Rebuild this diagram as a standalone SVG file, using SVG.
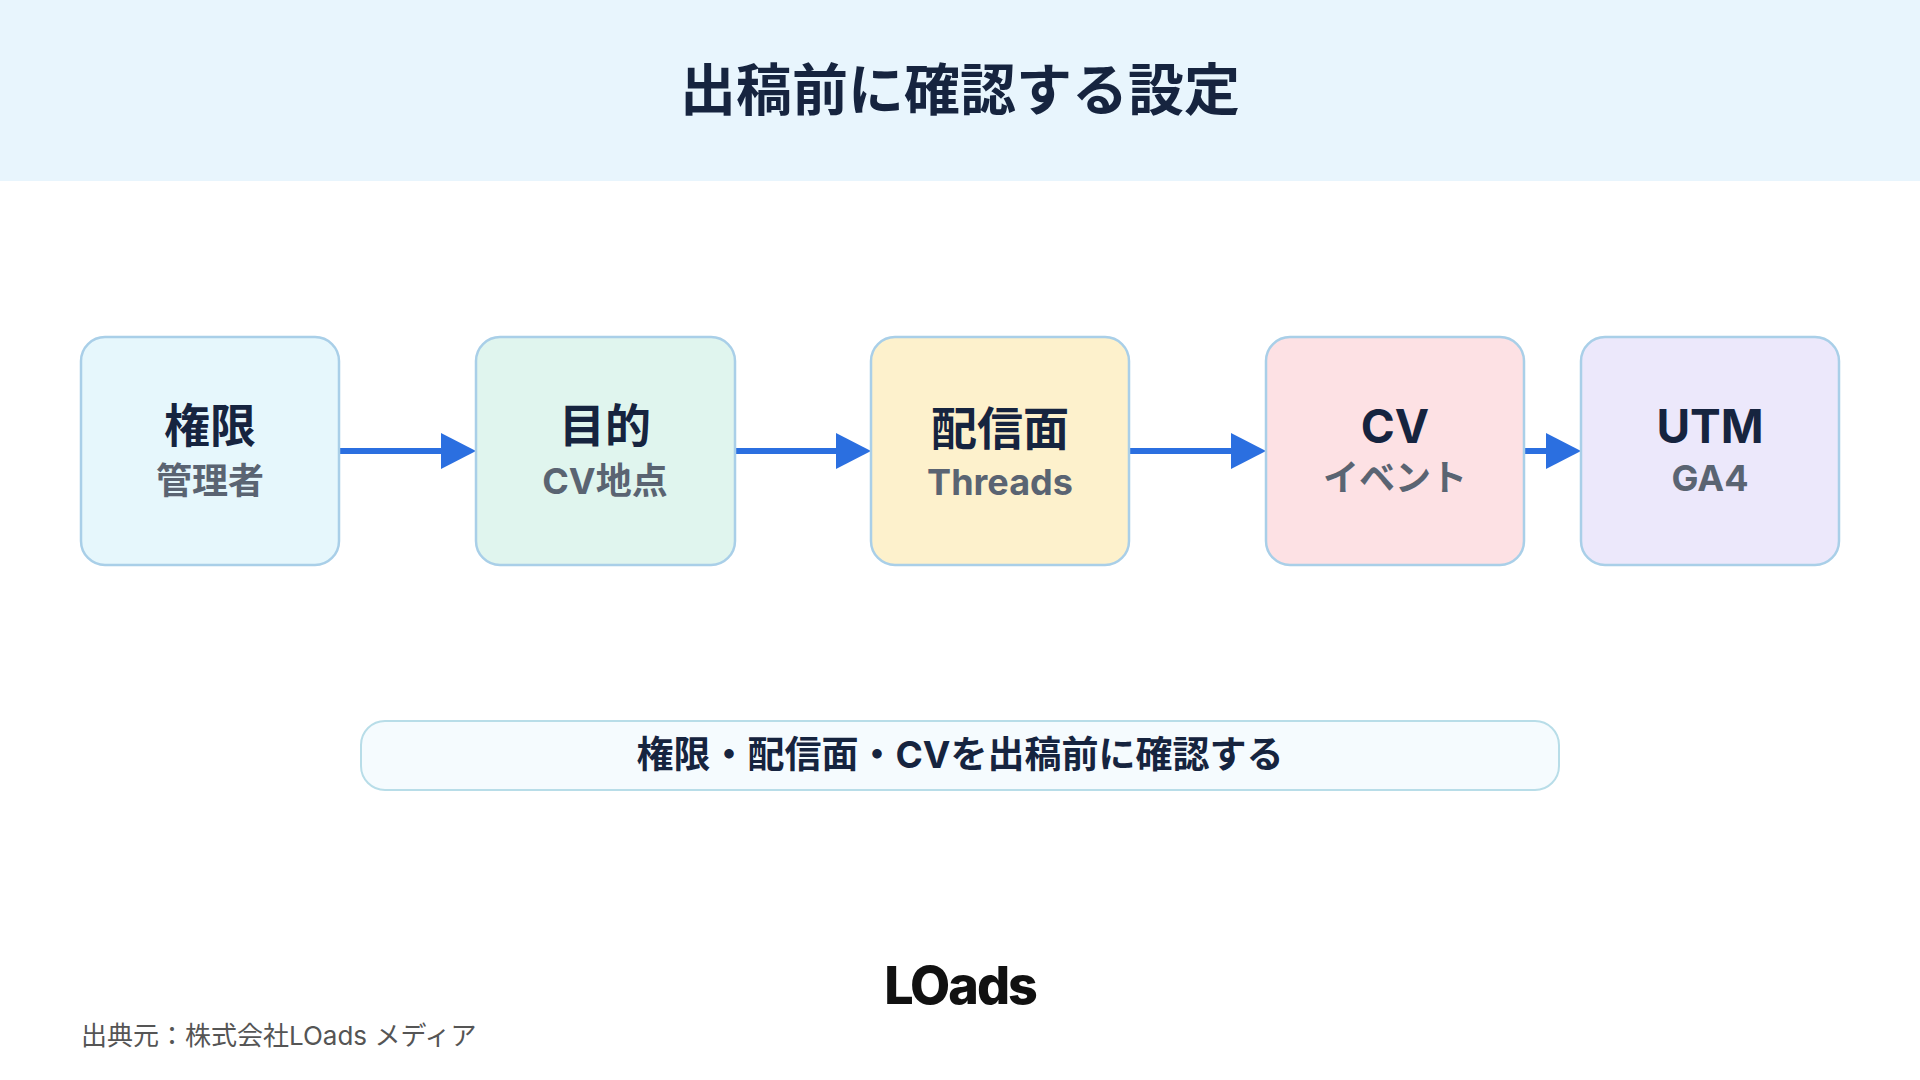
<svg xmlns="http://www.w3.org/2000/svg" width="1920" height="1080" viewBox="0 0 1920 1080">
<defs>
<style>
text{font-family:"Inter","Noto Sans CJK JP",sans-serif;text-anchor:middle}
.box{stroke:#a9cfe8;stroke-width:2.5}
.m{font-size:46px;font-weight:700;fill:#16243f}
.s{font-size:36px;font-weight:700;fill:#5a6472}
.c{stroke:#2b6fe0;stroke-width:6}
</style>
</defs>
<rect width="1920" height="1080" fill="#fff"/>
<rect width="1920" height="181" fill="#e8f5fd"/>
<text x="960" y="110" font-size="56" font-weight="700" fill="#16243f">出稿前に確認する設定</text>
<g id="connectors">
<path class="c" d="M339 451H441"/><path d="M441 433L476 451L441 469Z" fill="#2b6fe0"/>
<path class="c" d="M735 451H836"/><path d="M836 433L871 451L836 469Z" fill="#2b6fe0"/>
<path class="c" d="M1129 451H1231"/><path d="M1231 433L1266 451L1231 469Z" fill="#2b6fe0"/>
<path class="c" d="M1524 451H1546"/><path d="M1546 433L1581 451L1546 469Z" fill="#2b6fe0"/>
</g>
<g id="n1"><rect class="box" x="81" y="337" width="258" height="228" rx="24" fill="#e6f7fc"/><text class="m" x="210" y="442">権限</text><text class="s" x="210" y="494">管理者</text></g>
<g id="n2"><rect class="box" x="476" y="337" width="259" height="228" rx="24" fill="#e0f5ee"/><text class="m" x="605" y="442">目的</text><text class="s" x="605" y="494">CV地点</text></g>
<g id="n3"><rect class="box" x="871" y="337" width="258" height="228" rx="24" fill="#fdf1cc"/><text class="m" x="1000" y="445">配信面</text><text class="s" x="1000" y="495">Threads</text></g>
<g id="n4"><rect class="box" x="1266" y="337" width="258" height="228" rx="24" fill="#fde1e4"/><text class="m" x="1395" y="443">CV</text><text class="s" x="1395" y="491">イベント</text></g>
<g id="n5"><rect class="box" x="1581" y="337" width="258" height="228" rx="24" fill="#ece8fb"/><text class="m" x="1710" y="443">UTM</text><text class="s" x="1710" y="491">GA4</text></g>
<g id="summary"><rect x="361" y="721" width="1198" height="69" rx="24" fill="#f5fbfe" stroke="#b8dde8" stroke-width="2"/><text x="960" y="768" font-size="37" font-weight="700" fill="#16243f">権限・配信面・CVを出稿前に確認する</text></g>
<text x="960" y="1004" font-size="52" font-weight="800" fill="#111" letter-spacing="-2">LOads</text>
<text x="81" y="1045" font-size="26" fill="#555" style="text-anchor:start">出典元：株式会社LOads メディア</text>
</svg>
